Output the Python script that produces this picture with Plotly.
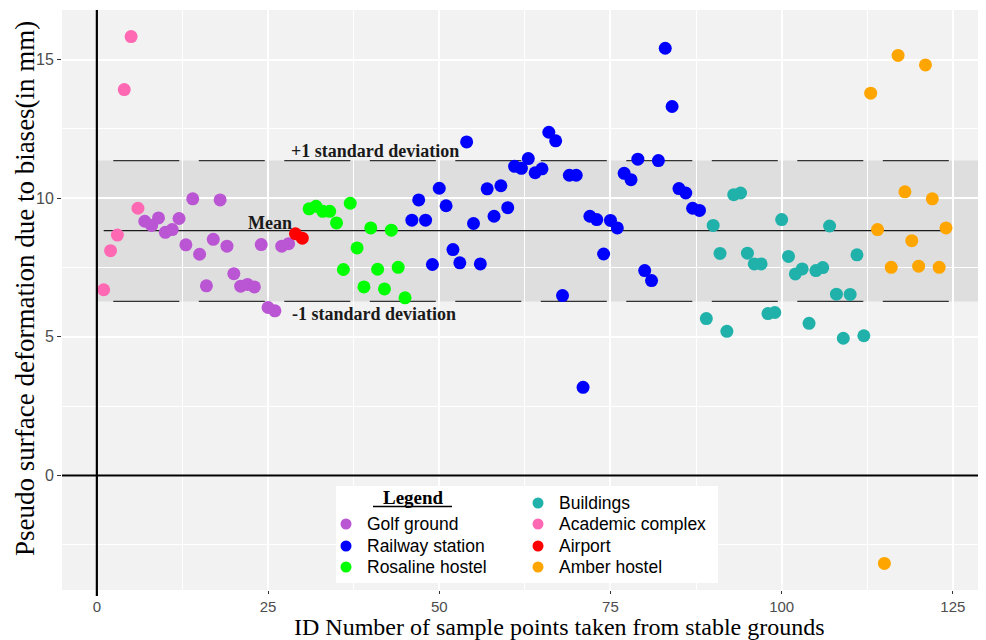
import plotly.graph_objects as go

# ---------------- data ----------------
academic_ids = [1, 2, 3, 4, 5, 6]
academic_vals = [6.70, 8.11, 8.67, 13.92, 15.83, 9.64]

golf_ids = [7, 8, 9, 10, 11, 12, 13, 14, 15, 16, 17, 18, 19, 20, 21, 22, 23, 24, 25, 26, 27, 28]
golf_vals = [9.17, 9.02, 9.29, 8.77, 8.87, 9.27, 8.32, 9.98, 7.98, 6.84, 8.52, 9.94,
             8.27, 7.28, 6.83, 6.89, 6.80, 8.33, 6.06, 5.94, 8.27, 8.36]

airport_ids = [29, 30]
airport_vals = [8.72, 8.56]

rosaline_ids = [31, 32, 33, 34, 35, 36, 37, 38, 39, 40, 41, 42, 43, 44, 45]
rosaline_vals = [9.62, 9.71, 9.53, 9.53, 9.11, 7.43, 9.82, 8.21, 6.80, 8.93, 7.44, 6.73, 8.85, 7.51, 6.41]

railway_ids = [46, 47, 48, 49, 50, 51, 52, 53, 54, 55, 56, 57, 58, 59, 60, 61, 62, 63, 64, 65, 66,
               67, 68, 69, 70, 71, 72, 73, 74, 75, 76, 77, 78, 79, 80, 81, 82, 83, 84, 85, 86, 87, 88]
railway_vals = [9.21, 9.94, 9.21, 7.61, 10.36, 9.73, 8.15, 7.67, 12.03, 9.09, 7.63, 10.34, 9.35,
                10.45, 9.66, 11.15, 11.08, 11.43, 10.92, 11.06, 12.38, 12.07, 6.49, 10.83, 10.83,
                3.18, 9.35, 9.23, 7.99, 9.20, 8.93, 10.90, 10.67, 11.41, 7.39, 7.03, 11.36, 15.41,
                13.31, 10.35, 10.19, 9.64, 9.56]

buildings_ids = [89, 90, 91, 92, 93, 94, 95, 96, 97, 98, 99, 100, 101, 102, 103, 104, 105, 106,
                 107, 108, 109, 110, 111, 112]
buildings_vals = [5.66, 9.02, 8.01, 5.20, 10.13, 10.19, 8.02, 7.63, 7.63, 5.84, 5.88, 9.23, 7.90,
                  7.27, 7.45, 5.49, 7.39, 7.50, 9.00, 6.54, 4.95, 6.53, 7.96, 5.04]

amber_ids = [113, 114, 115, 116, 117, 118, 119, 120, 121, 122, 123, 124]
amber_vals = [13.79, 8.87, -3.17, 7.51, 15.15, 10.23, 8.47, 7.55, 14.81, 9.98, 7.51, 8.93]

mean_val = 8.83
sd_upper = 11.36
sd_lower = 6.28
mean_span = [1, 124]
sd_span = [2.4, 125.0]

x_ticks = [0, 25, 50, 75, 100, 125]
y_ticks = [0, 5, 10, 15]

series = [
    ("Golf ground", golf_ids, golf_vals, "#BA55D3"),
    ("Railway station", railway_ids, railway_vals, "#0000FF"),
    ("Rosaline hostel", rosaline_ids, rosaline_vals, "#00FF00"),
    ("Buildings", buildings_ids, buildings_vals, "#20B2AA"),
    ("Academic complex", academic_ids, academic_vals, "#FF69B4"),
    ("Airport", airport_ids, airport_vals, "#FF0000"),
    ("Amber hostel", amber_ids, amber_vals, "#FFA500"),
]

# ---------------- geometry (window pixels; page body has an 8px margin) ----------------
OFF = 8
W, H = 986 - OFF, 640 - OFF
P_LEFT, P_RIGHT, P_TOP, P_BOTTOM = 62, 986, 10, 590   # panel in window pixels
ML = P_LEFT - OFF
MR = 0
MT = P_TOP - OFF
MB = (640 - OFF) - (P_BOTTOM - OFF)
PW = P_RIGHT - P_LEFT
PH = P_BOTTOM - P_TOP


def px_x(p):
    return (p - P_LEFT) / PW


def px_y(p):
    return (P_BOTTOM - p) / PH


fig = go.Figure()

# reference lines (drawn first so points sit on top)
fig.add_trace(go.Scatter(x=mean_span, y=[mean_val, mean_val], mode="lines",
                         line=dict(color="#1a1a1a", width=1.3), showlegend=False, hoverinfo="skip"))
for yv in (sd_upper, sd_lower):
    fig.add_trace(go.Scatter(x=sd_span, y=[yv, yv], mode="lines",
                             line=dict(color="#333333", width=1.3, dash="66px,19.5px"),
                             showlegend=False, hoverinfo="skip"))

for name, ids, vals, col in series:
    fig.add_trace(go.Scatter(x=ids, y=vals, mode="markers", name=name,
                             marker=dict(color=col, size=13, line=dict(width=0)),
                             showlegend=False))

shapes = []
# grey +-1 sd band
shapes.append(dict(type="rect", xref="x", yref="y", x0=0, x1=200, y0=sd_lower, y1=sd_upper,
                   fillcolor="#DEDEDE", line=dict(width=0), layer="below"))
# axis lines through origin
shapes.append(dict(type="line", xref="x", yref="paper", x0=0, x1=0, y0=px_y(596), y1=1,
                   line=dict(color="black", width=2.2), layer="above"))
shapes.append(dict(type="line", xref="paper", yref="y", x0=0, x1=1, y0=0, y1=0,
                   line=dict(color="black", width=2.2), layer="above"))

# legend box
shapes.append(dict(type="rect", xref="paper", yref="paper",
                   x0=px_x(336), x1=px_x(718), y0=px_y(583), y1=px_y(486),
                   fillcolor="white", line=dict(width=0), layer="above"))
# legend title underline
shapes.append(dict(type="line", xref="paper", yref="paper",
                   x0=px_x(373), x1=px_x(452), y0=px_y(506.5), y1=px_y(506.5),
                   line=dict(color="black", width=1.5), layer="above"))

annotations = []
# legend entries
legend_layout = [
    ("Golf ground", 346, 524), ("Railway station", 346, 546), ("Rosaline hostel", 346, 567),
    ("Buildings", 538, 503), ("Academic complex", 538, 524), ("Airport", 538, 546),
    ("Amber hostel", 538, 567),
]
col_map = {s[0]: s[3] for s in series}
for name, mx, my in legend_layout:
    shapes.append(dict(type="circle", xref="paper", yref="paper", xsizemode="pixel", ysizemode="pixel",
                       xanchor=px_x(mx), yanchor=px_y(my), x0=-5.5, x1=5.5, y0=-5.5, y1=5.5,
                       fillcolor=col_map[name], line=dict(width=0), layer="above"))
    annotations.append(dict(xref="paper", yref="paper", x=px_x(mx + 19), y=px_y(my),
                            xanchor="left", yanchor="middle", showarrow=False, text=name,
                            font=dict(family="Liberation Sans, Arial, sans-serif", size=17.5, color="black")))
annotations.append(dict(xref="paper", yref="paper", x=px_x(413), y=px_y(497),
                        xanchor="center", yanchor="middle", showarrow=False, text="<b>Legend</b>",
                        font=dict(family="Liberation Serif, Times New Roman, serif", size=19, color="black")))

# band labels
lab_font = dict(family="Liberation Serif, Times New Roman, serif", size=18, color="#1a1a1a")
annotations.append(dict(xref="x", yref="y", x=40.6, y=11.70, text="<b>+1 standard deviation</b>",
                        showarrow=False, xanchor="center", yanchor="middle", font=lab_font))
annotations.append(dict(xref="x", yref="y", x=40.5, y=5.82, text="<b>-1 standard deviation</b>",
                        showarrow=False, xanchor="center", yanchor="middle", font=lab_font))
annotations.append(dict(xref="x", yref="y", x=25.3, y=9.10, text="<b>Mean</b>",
                        showarrow=False, xanchor="center", yanchor="middle", font=lab_font))

# axis titles
annotations.append(dict(xref="paper", yref="paper", x=px_x(559), y=px_y(627), xanchor="center",
                        yanchor="middle", showarrow=False,
                        text="ID Number of sample points taken from stable grounds",
                        font=dict(family="Liberation Serif, Times New Roman, serif", size=24, color="black")))
annotations.append(dict(xref="paper", yref="paper", x=px_x(25), y=px_y(289), xanchor="center",
                        yanchor="middle", showarrow=False, textangle=-90,
                        text="Pseudo surface deformation due to biases(in mm)",
                        font=dict(family="Liberation Serif, Times New Roman, serif", size=27, color="black")))

tick_font = dict(family="Liberation Sans Narrow, Arial Narrow, Liberation Sans, Arial, sans-serif",
                 size=15, color="#4D4D4D")

fig.update_layout(
    width=W, height=H,
    margin=dict(l=ML, r=MR, t=MT, b=MB, pad=0),
    paper_bgcolor="white",
    plot_bgcolor="#F2F2F2",
    showlegend=False,
    shapes=shapes,
    annotations=annotations,
    xaxis=dict(range=[-5.09, 129.84], tickvals=x_ticks, ticktext=[str(t) for t in x_ticks],
               showgrid=True, gridcolor="white", gridwidth=1.6, zeroline=False,
               ticks="outside", ticklen=3, tickcolor="#333333", tickwidth=1,
               tickfont=tick_font, showline=False,
               minor=dict(tickvals=[12.5, 37.5, 62.5, 87.5, 112.5], showgrid=True,
                          gridcolor="white", gridwidth=0.8, ticks="")),
    yaxis=dict(range=[-4.13, 16.79], tickvals=y_ticks, ticktext=[str(t) for t in y_ticks],
               showgrid=True, gridcolor="white", gridwidth=1.6, zeroline=False,
               ticks="outside", ticklen=4, tickcolor="#333333", tickwidth=1,
               tickfont=dict(tick_font, size=16), showline=False,
               minor=dict(tickvals=[-2.5, 2.5, 7.5, 12.5], showgrid=True,
                          gridcolor="white", gridwidth=0.8, ticks="")),
)

fig.write_html("out.html")
